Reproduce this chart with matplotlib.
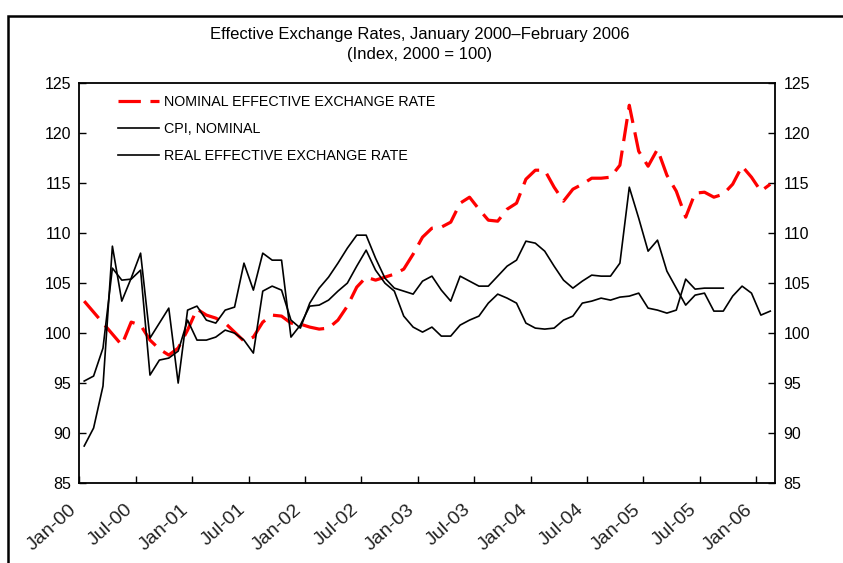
import numpy as np
import matplotlib
matplotlib.use("Agg")
import matplotlib.pyplot as plt
from matplotlib.patches import Rectangle

plt.rcParams['font.family'] = ['Liberation Sans', 'DejaVu Sans']

# monthly data, Jan-2000 .. Feb-2006
neer = [103.2, 102.1, 101.0, 99.9, 98.8, 101.1, 100.8, 99.3, 98.4, 97.8,
        98.5, 100.3, 102.4, 101.8, 101.5, 101.0, 100.1, 99.2, 99.6, 101.1,
        101.8, 101.7, 101.0, 100.9, 100.6, 100.4, 100.5, 101.3, 102.7, 104.6,
        105.6, 105.3, 105.6, 105.9, 106.4, 107.9, 109.6, 110.5, 110.6, 111.1,
        113.0, 113.6, 112.4, 111.3, 111.2, 112.4, 113.0, 115.4, 116.3, 116.3,
        114.6, 113.2, 114.4, 114.9, 115.5, 115.5, 115.6, 116.8, 122.8, 118.2,
        116.7, 118.4, 115.8, 114.2, 111.6, 114.0, 114.1, 113.6, 113.9, 114.9,
        116.7, 115.6, 114.2, 114.9]

cpi_nominal = [88.7, 90.5, 94.7, 108.7, 103.2, 105.5, 108.0, 99.5, 101.0, 102.5,
               95.0, 102.3, 102.7, 101.3, 101.0, 102.3, 102.6, 107.0, 104.3, 108.0,
               107.3, 107.3, 99.6, 100.8, 102.7, 102.8, 103.3, 104.2, 105.0, 106.7,
               108.3, 106.3, 105.0, 104.2, 101.7, 100.6, 100.1, 100.6, 99.7, 99.7,
               100.8, 101.3, 101.7, 103.0, 103.9, 103.5, 103.0, 101.0, 100.5, 100.4,
               100.5, 101.3, 101.7, 103.0, 103.2, 103.5, 103.3, 103.6, 103.7, 104.0,
               102.5, 102.3, 102.0, 102.3, 105.4, 104.4, 104.5, 104.5, 104.5]

reer = [95.2, 95.7, 98.5, 106.5, 105.3, 105.4, 106.3, 95.8, 97.3, 97.5,
        98.2, 101.3, 99.3, 99.3, 99.6, 100.3, 100.0, 99.3, 98.0, 104.2,
        104.7, 104.3, 101.3, 100.5, 103.0, 104.5, 105.6, 107.0, 108.5, 109.8,
        109.8, 107.5, 105.5, 104.5, 104.2, 103.9, 105.2, 105.7, 104.3, 103.2,
        105.7, 105.2, 104.7, 104.7, 105.7, 106.7, 107.3, 109.2, 109.0, 108.2,
        106.7, 105.3, 104.5, 105.2, 105.8, 105.7, 105.7, 107.0, 114.6, 111.5,
        108.2, 109.3, 106.2, 104.5, 102.8, 103.8, 104.0, 102.2, 102.2, 103.7,
        104.7, 104.0, 101.8, 102.2]

tick_labels = ['Jan-00', 'Jul-00', 'Jan-01', 'Jul-01', 'Jan-02', 'Jul-02', 'Jan-03',
               'Jul-03', 'Jan-04', 'Jul-04', 'Jan-05', 'Jul-05', 'Jan-06']
y_ticks = [85, 90, 95, 100, 105, 110, 115, 120, 125]

fig = plt.figure(figsize=(8.43, 5.63), dpi=100)
ax = fig.add_axes([0.0943, 0.1421, 0.825, 0.710])

# points sit in the middle of each month slot
x_neer = np.arange(len(neer)) + 0.5
x_cpi = np.arange(len(cpi_nominal)) + 0.5
x_reer = np.arange(len(reer)) + 0.5

ax.plot(x_neer, neer, color='#ff0000', lw=2.3, dashes=(7, 3),
        label='NOMINAL EFFECTIVE EXCHANGE RATE')
ax.plot(x_cpi, cpi_nominal, color='black', lw=1.2, label='CPI, NOMINAL')
ax.plot(x_reer, reer, color='black', lw=1.2, label='REAL EFFECTIVE EXCHANGE RATE')

ax.set_xlim(0, 74)
ax.set_ylim(85, 125)
ax.set_yticks(y_ticks)
ax.set_xticks(np.arange(len(tick_labels)) * 6)
ax.set_xticklabels(tick_labels, rotation=42, ha='right', va='top',
                   fontsize=14, color='#222222')

ax.tick_params(axis='y', direction='in', length=5, width=1, left=True, right=True,
               labelleft=True, labelright=True, labelsize=11.5, pad=6)
ax.tick_params(axis='x', direction='in', length=5, width=1, pad=13)
for sp in ax.spines.values():
    sp.set_linewidth(1.3)

ax.legend(loc='upper left', bbox_to_anchor=(0.055, 0.970), frameon=False,
          fontsize=10.3, handlelength=2.9, handletextpad=0.3, labelspacing=0.9,
          borderpad=0, borderaxespad=0)

fig.text(0.498, 0.939, 'Effective Exchange Rates, January 2000\u2013February 2006',
         ha='center', va='center', fontsize=12)
fig.text(0.498, 0.904, '(Index, 2000 = 100)', ha='center', va='center', fontsize=12)

# outer frame (cut off at the right and bottom)
fig.add_artist(Rectangle((8 / 843, -0.1), 1.2, 1.1 - 16 / 563, fill=False,
                         lw=1.8, ec='black', transform=fig.transFigure))

fig.savefig('out.png', dpi=100)
